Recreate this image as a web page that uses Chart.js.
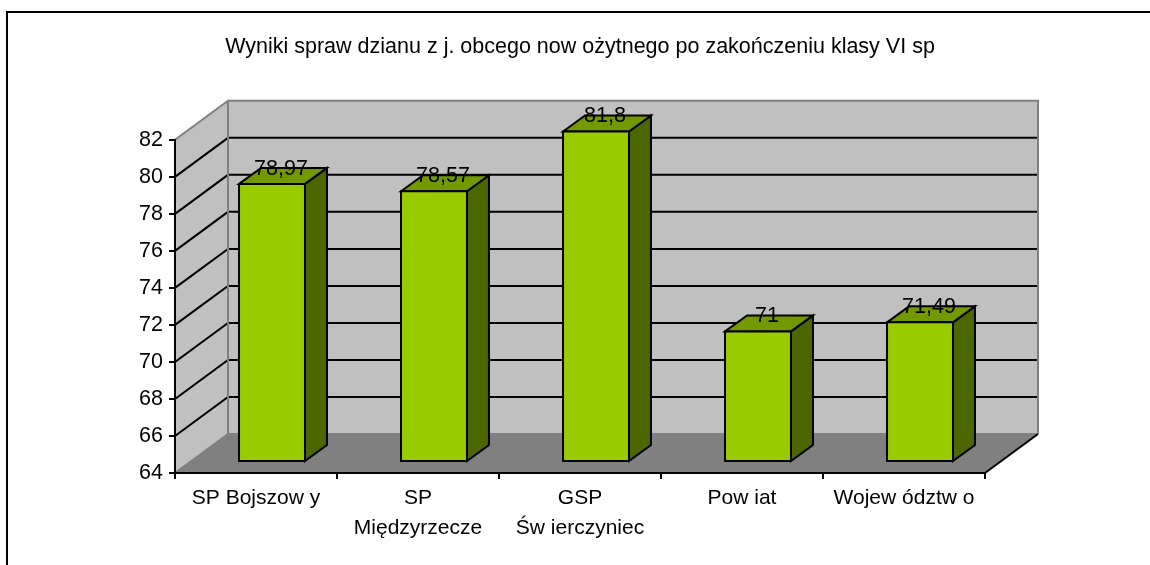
<!DOCTYPE html>
<html>
<head>
<meta charset="utf-8">
<script src="https://cdn.jsdelivr.net/npm/chart.js@4/dist/chart.umd.min.js"></script>
<style>
  html, body { margin: 0; padding: 0; background: #fff; }
  #wrap { width: 1150px; height: 565px; position: relative; }
</style>
</head>
<body>
<div id="wrap"><canvas id="c" width="1150" height="565"></canvas></div>
<script>
const chartTitle = "Wyniki spraw dzianu z j. obcego now ożytnego po zakończeniu klasy VI sp";
const categories = [["SP Bojszow y"], ["SP", "Międzyrzecze"], ["GSP", "Św ierczyniec"], ["Pow iat"], ["Wojew ództw o"]];
const values = [78.97, 78.57, 81.8, 71, 71.49];
const yMin = 64;
const yMax = 82;
const yStep = 2;

const FONT = "'Liberation Sans', Arial, sans-serif";
const DEPTH_X = 53, DEPTH_Y = -39;   // wall depth
const FACE_X = 16, FACE_Y = -12;     // bar front-face offset
const BAR_X = 22, BAR_Y = -16;       // bar depth

function poly(ctx, pts, fill, stroke, lw) {
  ctx.beginPath();
  ctx.moveTo(pts[0][0], pts[0][1]);
  for (let i = 1; i < pts.length; i++) ctx.lineTo(pts[i][0], pts[i][1]);
  ctx.closePath();
  if (fill) { ctx.fillStyle = fill; ctx.fill(); }
  if (stroke) { ctx.strokeStyle = stroke; ctx.lineWidth = lw || 1; ctx.stroke(); }
}

const threeD = {
  id: 'threeD',
  beforeDraw(chart) {
    const ctx = chart.ctx;
    const a = chart.chartArea;
    const ys = chart.scales.y;
    ctx.save();
    ctx.strokeStyle = '#000';
    ctx.lineWidth = 2;
    ctx.strokeRect(7, 12, 3000, 3000);

    const yb = ys.getPixelForValue(yMin), yt = ys.getPixelForValue(yMax);
    const L = a.left, R = a.right;
    poly(ctx, [[L + DEPTH_X, yt + DEPTH_Y], [R + DEPTH_X, yt + DEPTH_Y], [R + DEPTH_X, yb + DEPTH_Y], [L + DEPTH_X, yb + DEPTH_Y]], '#C0C0C0', null);
    poly(ctx, [[L, yt], [L + DEPTH_X, yt + DEPTH_Y], [L + DEPTH_X, yb + DEPTH_Y], [L, yb]], '#C0C0C0', null);
    poly(ctx, [[L, yb], [L + DEPTH_X, yb + DEPTH_Y], [R + DEPTH_X, yb + DEPTH_Y], [R, yb]], '#808080', null);

    ctx.strokeStyle = '#000';
    ctx.lineWidth = 2;
    for (let v = yMin + yStep; v < yMax; v += yStep) {
      const y = ys.getPixelForValue(v);
      ctx.beginPath();
      ctx.moveTo(L, y);
      ctx.lineTo(L + DEPTH_X, y + DEPTH_Y);
      ctx.lineTo(R + DEPTH_X, y + DEPTH_Y);
      ctx.stroke();
    }
    ctx.strokeStyle = '#808080';
    ctx.lineWidth = 2;
    ctx.beginPath();
    ctx.moveTo(L, yt);
    ctx.lineTo(L + DEPTH_X, yt + DEPTH_Y);
    ctx.lineTo(R + DEPTH_X, yt + DEPTH_Y);
    ctx.lineTo(R + DEPTH_X, yb + DEPTH_Y);
    ctx.moveTo(L + DEPTH_X, yt + DEPTH_Y);
    ctx.lineTo(L + DEPTH_X, yb + DEPTH_Y);
    ctx.lineTo(R + DEPTH_X, yb + DEPTH_Y);
    ctx.moveTo(L, yb);
    ctx.lineTo(L + DEPTH_X, yb + DEPTH_Y);
    ctx.stroke();
    ctx.strokeStyle = '#000';
    ctx.lineWidth = 2;
    ctx.beginPath();
    ctx.moveTo(R, yb);
    ctx.lineTo(R + DEPTH_X, yb + DEPTH_Y);
    ctx.stroke();
    ctx.restore();
  },
  afterDatasetsDraw(chart) {
    const ctx = chart.ctx;
    const ys = chart.scales.y;
    const meta = chart.getDatasetMeta(0);
    ctx.save();
    ctx.lineJoin = 'miter';
    meta.data.forEach((bar, i) => {
      const w = bar.width;
      const x1 = bar.x - w / 2 + FACE_X, x2 = bar.x + w / 2 + FACE_X;
      const yT = bar.y + FACE_Y, yB = ys.getPixelForValue(yMin) + FACE_Y;
      poly(ctx, [[x2, yT], [x2 + BAR_X, yT + BAR_Y], [x2 + BAR_X, yB + BAR_Y], [x2, yB]], '#4C6600', '#000', 2);
      poly(ctx, [[x1, yT], [x1 + BAR_X, yT + BAR_Y], [x2 + BAR_X, yT + BAR_Y], [x2, yT]], '#739900', '#000', 2);
      poly(ctx, [[x1, yT], [x2, yT], [x2, yB], [x1, yB]], '#99CC00', '#000', 2);
    });
    ctx.fillStyle = '#000';
    ctx.font = '21.5px ' + FONT;
    ctx.textAlign = 'center';
    ctx.textBaseline = 'middle';
    meta.data.forEach((bar, i) => {
      const txt = String(values[i]).replace('.', ',');
      ctx.fillText(txt, bar.x + FACE_X + 9, bar.y + FACE_Y + BAR_Y + 1);
    });
    ctx.restore();
  }
};

new Chart(document.getElementById('c'), {
  type: 'bar',
  data: {
    labels: categories,
    datasets: [{
      data: values,
      base: yMin,
      backgroundColor: 'rgba(0,0,0,0)',
      borderWidth: 0,
      barPercentage: 1,
      categoryPercentage: 0.407
    }]
  },
  options: {
    responsive: false,
    animation: false,
    layout: { padding: { left: 0, right: 165, top: 0, bottom: 0 } },
    plugins: {
      legend: { display: false },
      tooltip: { enabled: false },
      title: {
        display: true,
        text: chartTitle,
        color: '#000',
        fullSize: false,
        font: { family: FONT, size: 21.5, weight: 'normal', lineHeight: 1.2 },
        padding: { top: 34, bottom: 80 }
      }
    },
    scales: {
      x: {
        grid: { display: true, offset: true, drawOnChartArea: false, drawTicks: true, tickLength: 6, color: '#000', lineWidth: 2 },
        border: { display: true, color: '#000', width: 2 },
        ticks: { color: '#000', padding: 4, maxRotation: 0, autoSkip: false, font: { family: FONT, size: 21, lineHeight: 1.45 } },
        afterFit(scale) { scale.height = 92; }
      },
      y: {
        min: yMin,
        max: yMax,
        ticks: { stepSize: yStep, color: '#000', padding: 6, font: { family: FONT, size: 21.5 } },
        grid: { display: true, drawOnChartArea: false, drawTicks: true, tickLength: 6, color: '#000', lineWidth: 2 },
        border: { display: true, color: '#000', width: 2 },
        afterFit(scale) { scale.width = 175; }
      }
    }
  },
  plugins: [threeD]
});
</script>
</body>
</html>
